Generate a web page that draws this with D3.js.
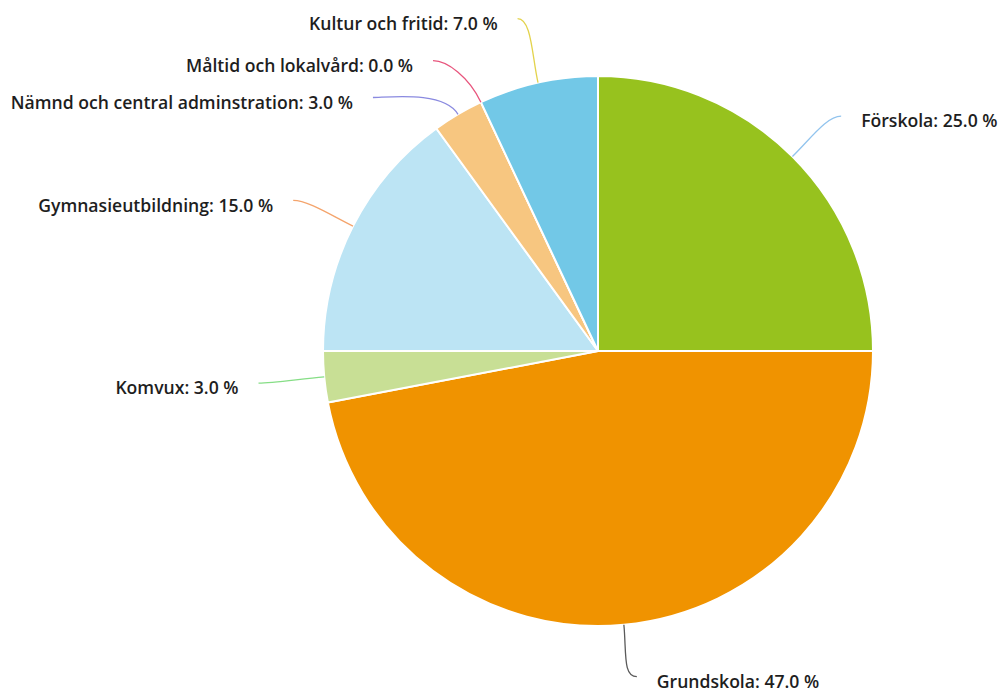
<!DOCTYPE html>
<html>
<head>
<meta charset="utf-8">
<script src="https://cdn.jsdelivr.net/npm/d3@7"></script>
<style>
	body { margin: 0; background: #fff; }
	.lbl { font-family: "Open Sans", Lato, sans-serif; font-size: 17.6px; font-weight: 600; fill: #1e1e1e; }
</style>
</head>
<body>
<div id="chart"></div>
<script>
	// data
	let categories = ["Förskola", "Grundskola", "Komvux", "Gymnasieutbildning",
		"Nämnd och central adminstration", "Måltid och lokalvård", "Kultur och fritid"];
	let values = [25.0, 47.0, 3.0, 15.0, 3.0, 0.0, 7.0];
	let sliceColors = ["#97c21e", "#f09300", "#c8df95", "#bce4f4", "#f7c680", "#ee8fa6", "#72c8e7"];
	let lineColors = ["#92c4ee", "#5a5a5a", "#86de86", "#f4a46c", "#8a8ae0", "#e8557d", "#e3d34c"];

	// label layout: angular shift (deg) and distance beyond the rim
	let labelShift = [1, -1.4, 0, -0.7, -11, -4.4, -1];
	let labelExt = [63, 53, 66, 65, 64, 59, 67];

	let width = 1003, height = 693;
	let cx = 598, cy = 351, r = 275;

	let svg = d3.select("#chart").append("svg")
		.attr("width", width)
		.attr("height", height);
	let g = svg.append("g").attr("transform", "translate(" + cx + "," + cy + ")");

	let pie = d3.pie().sort(null).value(function(d) { return d; });
	let arcs = pie(values);
	let arc = d3.arc().innerRadius(0).outerRadius(r);

	g.selectAll("path.slice")
		.data(arcs)
		.enter().append("path")
		.attr("class", "slice")
		.attr("d", arc)
		.attr("fill", function(d, i) { return sliceColors[i]; })
		.attr("stroke", "#fff")
		.attr("stroke-width", 2)
		.attr("stroke-linejoin", "round");

	function polar(a, rad) {
		return [rad * Math.sin(a), -rad * Math.cos(a)];
	}

	let lines = g.append("g"), texts = g.append("g");
	arcs.forEach(function(d, i) {
		let mid = (d.startAngle + d.endAngle) / 2;
		let la = mid + labelShift[i] * Math.PI / 180;
		let p0 = polar(mid, r);
		let c1 = polar(mid, r + 28);
		let p2 = polar(la, r + labelExt[i]);
		let side = p2[0] >= 0 ? 1 : -1;
		let c2 = [p2[0] - side * 14, p2[1]];
		let path = d3.path();
		path.moveTo(p0[0], p0[1]);
		path.bezierCurveTo(c1[0], c1[1], c2[0], c2[1], p2[0], p2[1]);
		lines.append("path")
			.attr("d", path.toString())
			.attr("fill", "none")
			.attr("stroke", lineColors[i])
			.attr("stroke-width", 1.3);
		texts.append("text")
			.attr("class", "lbl")
			.attr("x", p2[0] + side * 20)
			.attr("y", p2[1] + 5)
			.attr("dy", "0.35em")
			.attr("text-anchor", side > 0 ? "start" : "end")
			.text(categories[i] + ": " + values[i].toFixed(1) + " %");
	});
</script>
</body>
</html>
